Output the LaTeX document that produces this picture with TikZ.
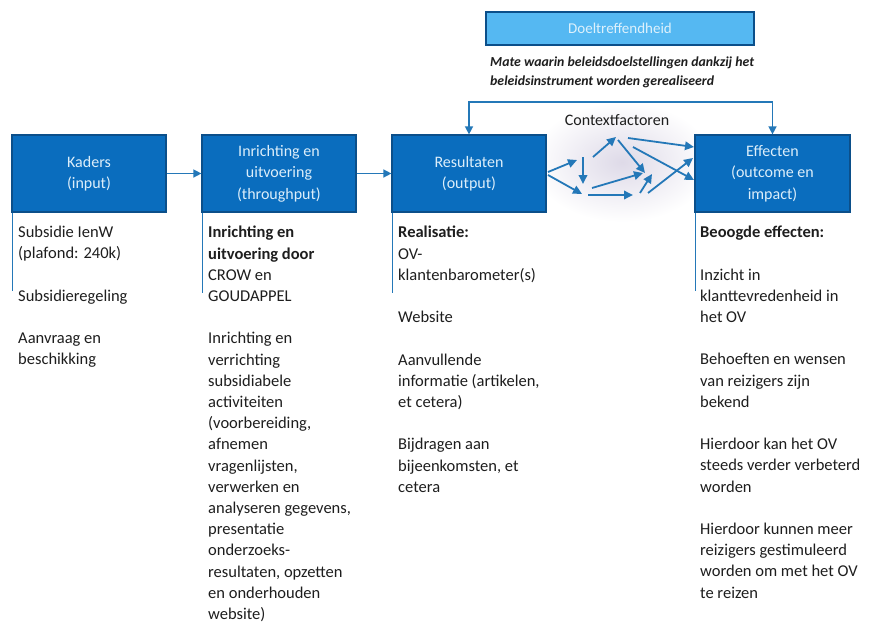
\documentclass[tikz,border=0pt]{standalone}
\usepackage{fontspec}
\setmainfont{Carlito}
\usetikzlibrary{arrows.meta}
\definecolor{boxblue}{HTML}{0A6DBE}
\definecolor{boxdark}{HTML}{0B4F8A}
\definecolor{boxtext}{HTML}{DCEEFA}
\definecolor{linkblue}{HTML}{2478B8}
\definecolor{toplight}{HTML}{55B8F2}
\definecolor{txt}{HTML}{1E1E1E}
\definecolor{glow}{HTML}{DEDAE8}
\tikzset{
  stage/.style={rectangle, fill=boxblue, draw=boxdark, line width=1.2pt,
    minimum width=154pt, minimum height=77pt, text=boxtext, align=center,
    font=\fontsize{16}{21.5}\selectfont, inner sep=2pt},
  flow/.style={draw=linkblue, line width=1.4pt, -{Triangle[length=8pt,width=8pt]}},
  ctx/.style={draw=linkblue, line width=1.8pt, -{Triangle[length=9pt,width=8.5pt]}},
  coltext/.style={anchor=north west, align=left, text=txt, inner sep=0pt,
    font=\fontsize{16.5}{21.2}\selectfont},
  sideline/.style={draw=linkblue, line width=0.9pt}
}
\begin{document}
\begin{tikzpicture}[x=1pt,y=-1pt]
\useasboundingbox (0,0) rectangle (879,626);
\fill[white] (0,0) rectangle (879,626);

% context glow
\shade[inner color=glow, outer color=white] (622,162) ellipse (90pt and 60pt);

% top box
\node[rectangle, fill=toplight, draw=boxdark, line width=1.5pt, minimum width=268pt,
  minimum height=33pt, text=white!80!toplight, font=\fontsize{15}{18}\selectfont] (doel) at (620,28.5) {Doeltreffendheid};
\node[anchor=north west, align=left, inner sep=0pt, text=txt,
  font=\fontsize{13.8}{19}\selectfont\itshape\bfseries] (mate) at (490,57)
  {Mate waarin beleidsdoelstellingen dankzij het\\beleidsinstrument worden gerealiseerd};

% stage boxes
\node[stage] (kad) at (89,173.5) {Kaders\\(input)};
\node[stage] (inr) at (279,173.5) {Inrichting en\\uitvoering\\(throughput)};
\node[stage] (res) at (469,173.5) {Resultaten\\(output)};
\node[stage, minimum width=155pt] (eff) at (772.5,173.5) {Effecten\\(outcome en\\impact)};

\draw[flow] (kad) -- (inr);
\draw[flow] (inr) -- (res);

% feedback loop
\coordinate (fbL) at (469,102);
\coordinate (fbR) at (772.5,102);
\draw[draw=linkblue, line width=1.4pt, {Triangle[length=8pt,width=8pt]}-{Triangle[length=8pt,width=8pt]}]
  (res.north) -- (fbL) -- (fbR) -- (eff.north);

% context factors
\node[text=txt, font=\fontsize{16}{18}\selectfont] (ctxlbl) at (617,120) {Contextfactoren};
\coordinate (a1) at (548,172); \coordinate (a2) at (577,160);
\coordinate (b1) at (548,175); \coordinate (b2) at (582,194);
\coordinate (c1) at (583,157); \coordinate (c2) at (583,184);
\coordinate (d1) at (593,157); \coordinate (d2) at (616,137);
\coordinate (e1) at (618,140); \coordinate (e2) at (645,173);
\coordinate (f1) at (628,138); \coordinate (f2) at (694,147);
\coordinate (g1) at (633,147); \coordinate (g2) at (694,180);
\coordinate (h1) at (592,188); \coordinate (h2) at (643,173);
\coordinate (i1) at (588,195); \coordinate (i2) at (633,195);
\coordinate (j1) at (640,193); \coordinate (j2) at (652,174);
\coordinate (k1) at (648,193); \coordinate (k2) at (693,158);
\foreach \p in {a,b,c,d,e,f,g,h,i,j,k}{\draw[ctx] (\p1) -- (\p2);}

% side lines
\draw[sideline] (kad.south west) ++(0.6,0) -- ++(0,78);
\draw[sideline] (inr.south west) ++(0.6,0) -- ++(0,80);
\draw[sideline] (res.south west) ++(0.6,0) -- ++(0,80);
\draw[sideline] (eff.south west) ++(0.6,0) -- ++(0,78);

% column texts
\node[coltext] (t1) at (18,226) {Subsidie IenW\\(plafond: 240k)\\[21.2pt]Subsidieregeling\\[21.2pt]Aanvraag en\\beschikking};
\node[coltext] (t2) at (208,226) {\textbf{Inrichting en}\\\textbf{uitvoering door}\\CROW en\\GOUDAPPEL\\[21.2pt]Inrichting en\\verrichting\\subsidiabele\\activiteiten\\(voorbereiding,\\afnemen\\vragenlijsten,\\verwerken en\\analyseren gegevens,\\presentatie\\onderzoeks-\\resultaten, opzetten\\en onderhouden\\website)};
\node[coltext] (t3) at (398,226) {\textbf{Realisatie:}\\OV-\\klantenbarometer(s)\\[21.2pt]Website\\[21.2pt]Aanvullende\\informatie (artikelen,\\et cetera)\\[21.2pt]Bijdragen aan\\bijeenkomsten, et\\cetera};
\node[coltext] (t4) at (700,226) {\textbf{Beoogde effecten:}\\[21.2pt]Inzicht in\\klanttevredenheid in\\het OV\\[21.2pt]Behoeften en wensen\\van reizigers zijn\\bekend\\[21.2pt]Hierdoor kan het OV\\steeds verder verbeterd\\worden\\[21.2pt]Hierdoor kunnen meer\\reizigers gestimuleerd\\worden om met het OV\\te reizen};
\end{tikzpicture}
\end{document}
